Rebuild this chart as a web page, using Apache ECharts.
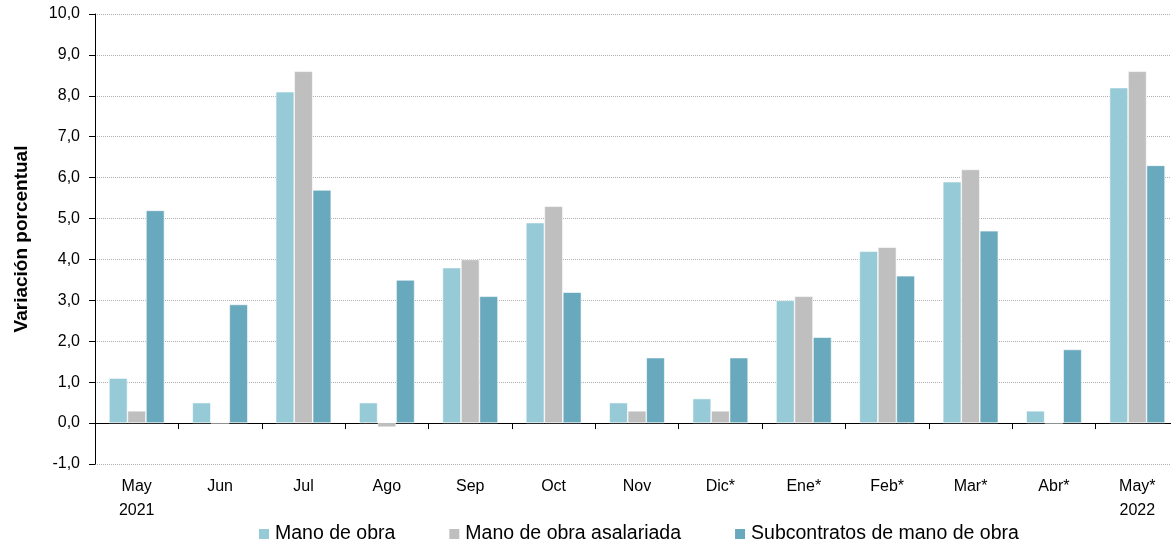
<!DOCTYPE html>
<html><head><meta charset="utf-8">
<script src="https://cdn.jsdelivr.net/npm/echarts@6/dist/echarts.min.js"></script>
<style>html,body{margin:0;padding:0;background:#fff;overflow:hidden}#c{width:1184px;height:542px}</style>
</head><body><div id="c"></div>
<script>
var categories = ['May\n2021','Jun','Jul','Ago','Sep','Oct','Nov','Dic*','Ene*','Feb*','Mar*','Abr*','May*\n2022'];
var manoDeObra = [1.1,0.5,8.1,0.5,3.8,4.9,0.5,0.6,3.0,4.2,5.9,0.3,8.2];
var manoAsalariada = [0.3,0,8.6,-0.1,4.0,5.3,0.3,0.3,3.1,4.3,6.2,0,8.6];
var subcontratos = [5.2,2.9,5.7,3.5,3.1,3.2,1.6,1.6,2.1,3.6,4.7,1.8,6.3];
var seriesNames = ['Mano de obra','Mano de obra asalariada','Subcontratos de mano de obra'];
var colors = ['#95CAD6','#BFBFBF','#69A9BD'];

var chart = echarts.init(document.getElementById('c'));
var font = 'Liberation Sans, Arial, sans-serif';
function mk(name, data, color){
  return {name:name,type:'bar',data:data,barWidth:18.5,barGap:'0%',
    itemStyle:{color:color,borderColor:'#fff',borderWidth:0.6},xAxisIndex:0};
}
chart.setOption({
  animation:false,
  textStyle:{fontFamily:font},
  grid:{left:95,right:5,top:14,bottom:78},
  legend:{top:519,left:252,itemWidth:12,itemHeight:12,itemGap:52,icon:'rect',
    textStyle:{fontSize:19.5,color:'#000',fontFamily:font},
    data:seriesNames},
  xAxis:[{type:'category',data:categories,
      axisLine:{onZero:true,lineStyle:{color:'#000',width:1}},
      axisTick:{show:true,length:6,lineStyle:{color:'#000'}},
      axisLabel:{show:false}},
    {type:'category',data:categories,position:'bottom',
      axisLine:{show:false,onZero:false},axisTick:{show:false},
      axisLabel:{fontSize:16,color:'#000',margin:11,lineHeight:24,fontFamily:font}}],
  yAxis:{type:'value',min:-1,max:10,interval:1,
    name:'Variación porcentual',nameLocation:'middle',nameGap:64,nameRotate:90,
    nameTextStyle:{fontSize:19,fontWeight:'bold',color:'#000',fontFamily:font},
    axisLine:{show:true,lineStyle:{color:'#000'}},
    axisTick:{show:true,length:6,lineStyle:{color:'#000'}},
    axisLabel:{fontSize:16,color:'#000',margin:15,formatter:function(v){return v.toFixed(1).replace('.',',');}},
    splitLine:{show:true,lineStyle:{color:'#b0b0b0',type:'dotted',width:1}}},
  series:[mk(seriesNames[0],manoDeObra,colors[0]),mk(seriesNames[1],manoAsalariada,colors[1]),mk(seriesNames[2],subcontratos,colors[2])]
});
</script></body></html>
